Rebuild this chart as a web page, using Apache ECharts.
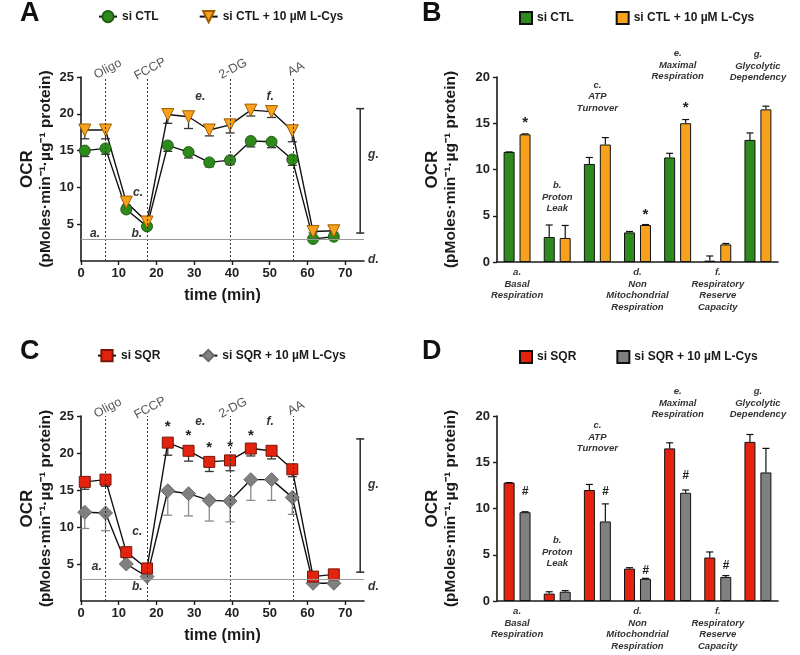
<!DOCTYPE html>
<html><head><meta charset="utf-8">
<script src="https://cdn.jsdelivr.net/npm/echarts@6/dist/echarts.min.js"></script>
<style>html,body{margin:0;padding:0;background:#fff}#c{width:800px;height:655px}</style>
</head><body><div id="c"></div>
<script>
// ---------- DATA ----------
const times = [1.0, 6.5, 12.0, 17.5, 23.0, 28.5, 34.0, 39.5, 45.0, 50.5, 56.0, 61.5, 67.0];
const ctl        = [15.0, 15.3, 7.0, 4.7, 15.7, 14.8, 13.4, 13.7, 16.3, 16.2, 13.8, 3.0, 3.3];
const ctlErr     = [0.8, 0.8, 0.4, 0.2, 0.8, 0.8, 0.6, 0.6, 0.8, 0.8, 0.8, 0.2, 0.2];
const ctlCys     = [17.8, 17.8, 8.0, 5.3, 19.9, 19.6, 17.8, 18.5, 20.5, 20.3, 17.7, 4.0, 4.1];
const ctlCysErr  = [1.2, 1.2, 0.4, 0.3, 1.2, 1.6, 0.8, 1.1, 0.8, 0.8, 1.5, 0.2, 0.2];
const sqr        = [16.1, 16.4, 6.6, 4.4, 21.4, 20.3, 18.8, 19.0, 20.6, 20.3, 17.8, 3.3, 3.6];
const sqrErr     = [1.0, 0.9, 0.3, 0.3, 1.7, 1.4, 1.3, 1.4, 1.0, 1.1, 1.0, 0.2, 0.2];
const sqrCys     = [12.0, 11.9, 5.0, 3.3, 14.9, 14.5, 13.6, 13.5, 16.4, 16.4, 14.0, 2.4, 2.4];
const sqrCysErr  = [2.2, 2.4, 0.3, 0.2, 3.3, 3.0, 2.8, 2.8, 2.8, 2.8, 2.3, 0.2, 0.2];

const injections     = ['Oligo', 'FCCP', '2-DG', 'AA'];
const injectionTimes = [6.3, 17.5, 39.5, 56.2];
const nonMitoLevel   = 3.0;

const categories     = ['Basal Respiration', 'Proton Leak', 'ATP Turnover', 'Non Mitochondrial Respiration',
                        'Maximal Respiration', 'Respiratory Reserve Capacity', 'Glycolytic Dependency'];
const categoryLetters = ['a.', 'b.', 'c.', 'd.', 'e.', 'f.', 'g.'];

const barCtl        = [11.9, 2.7, 10.6, 3.2, 11.3, 0.15, 13.2];
const barCtlErr     = [0.0, 1.3, 0.7, 0.1, 0.45, 0.5, 0.75];
const barCtlCys     = [13.8, 2.6, 12.7, 4.0, 15.0, 1.9, 16.5];
const barCtlCysErr  = [0.05, 1.35, 0.75, 0.05, 0.4, 0.1, 0.35];
const barSqr        = [12.8, 0.8, 12.0, 3.5, 16.5, 4.7, 17.2];
const barSqrErr     = [0.0, 0.2, 0.6, 0.1, 0.6, 0.6, 0.8];
const barSqrCys     = [9.6, 1.0, 8.6, 2.4, 11.7, 2.6, 13.9];
const barSqrCysErr  = [0.05, 0.12, 1.9, 0.05, 0.3, 0.15, 2.6];

// significance marks (category index, value level)
const starsB = [[0, 15.4], [3, 5.4], [4, 17.0]];
const hashD  = [[0, 11.8], [2, 11.8], [3, 3.3], [4, 13.5], [5, 3.8]];
const starsC = [[23.0, 23.9], [28.5, 22.7], [34.0, 21.1], [39.5, 21.3], [45.0, 22.7]];

const xTicks     = [0, 10, 20, 30, 40, 50, 60, 70];
const yTicksLine = [5, 10, 15, 20, 25];
const yTicksBar  = [0, 5, 10, 15, 20];

// ---------- STYLE ----------
const FONT = 'Liberation Sans, Arial, Helvetica, sans-serif';
const GREEN = '#2e8a1d', ORANGE = '#f8a11c', RED = '#e4230f', GRAY = '#808080';
const INK = '#1a1a1a';

const chart = echarts.init(document.getElementById('c'), null, {renderer: 'canvas'});

function lineX(gi) {
  return {
    type: 'value', gridIndex: gi, min: 0, max: 75, interval: 10,
    axisLine: {show: true, onZero: false, lineStyle: {color: INK, width: 1.6}},
    axisTick: {show: true, length: 4, customValues: xTicks, lineStyle: {color: INK, width: 1.4}},
    axisLabel: {customValues: xTicks, color: '#222', fontWeight: 'bold', fontSize: 13, fontFamily: FONT, margin: 6},
    splitLine: {show: false},
    name: 'time (min)', nameLocation: 'middle', nameGap: 27,
    nameTextStyle: {fontWeight: 'bold', fontSize: 16, color: INK, fontFamily: FONT}
  };
}
const yName = '{a|OCR}\n{b|(pMoles·min⁻¹·µg⁻¹ protein)}';
const yNameStyle = {
  color: INK, fontFamily: FONT,
  rich: {
    a: {fontSize: 17, fontWeight: 'bold', color: INK, fontFamily: FONT, lineHeight: 19},
    b: {fontSize: 15.5, fontWeight: 'bold', color: INK, fontFamily: FONT, lineHeight: 18}
  }
};
function lineY(gi) {
  return {
    type: 'value', gridIndex: gi, min: 0, max: 25, interval: 5,
    axisLine: {show: true, onZero: false, lineStyle: {color: INK, width: 1.6}},
    axisTick: {show: true, length: 4, customValues: yTicksLine, lineStyle: {color: INK, width: 1.4}},
    axisLabel: {customValues: yTicksLine, color: '#222', fontWeight: 'bold', fontSize: 13, fontFamily: FONT, margin: 7},
    splitLine: {show: false},
    name: yName, nameLocation: 'middle', nameRotate: 90, nameGap: 26, nameTextStyle: yNameStyle
  };
}
function barX(gi) {
  return {
    type: 'category', gridIndex: gi, data: categories,
    axisLine: {show: true, lineStyle: {color: INK, width: 1.6}},
    axisTick: {show: false},
    axisLabel: {
      interval: 0, margin: 5, color: '#333', fontStyle: 'italic', fontWeight: 'bold',
      fontSize: 9.5, fontFamily: FONT, lineHeight: 11.5,
      formatter: (v, i) => ([0, 3, 5].includes(i) ? [categoryLetters[i]].concat(v.split(' ')).join('\n') : '')
    },
    splitLine: {show: false}
  };
}
function barY(gi) {
  return {
    type: 'value', gridIndex: gi, min: 0, max: 20, interval: 5,
    axisLine: {show: true, onZero: false, lineStyle: {color: INK, width: 1.6}},
    axisTick: {show: true, length: 4, customValues: yTicksBar, lineStyle: {color: INK, width: 1.4}},
    axisLabel: {customValues: yTicksBar, color: '#222', fontWeight: 'bold', fontSize: 13, fontFamily: FONT, margin: 7},
    splitLine: {show: false},
    name: yName, nameLocation: 'middle', nameRotate: 90, nameGap: 37, nameTextStyle: yNameStyle
  };
}

function zip(vals) { return times.map((t, i) => [t, vals[i]]); }

function lineSeries(name, gi, vals, symbol, size, color, border, rotate) {
  return {
    type: 'line', name, xAxisIndex: gi, yAxisIndex: gi, data: zip(vals),
    symbol, symbolSize: size, symbolRotate: rotate || 0,
    itemStyle: {color, borderColor: border, borderWidth: 1},
    lineStyle: {color: '#111', width: 1.4}, z: 4, animation: false
  };
}
function lineErr(gi, vals, errs, color) {
  return {
    type: 'custom', xAxisIndex: gi, yAxisIndex: gi, silent: true, z: 3, animation: false,
    data: times.map((t, i) => [t, vals[i], errs[i]]),
    encode: {x: 0, y: 1},
    renderItem: (params, api) => {
      const p = api.coord([api.value(0), api.value(1)]);
      const q = api.coord([api.value(0), api.value(1) - api.value(2)]);
      const st = {stroke: color, lineWidth: 1.3};
      return {type: 'group', children: [
        {type: 'line', shape: {x1: p[0], y1: p[1], x2: q[0], y2: q[1]}, style: st},
        {type: 'line', shape: {x1: q[0] - 4.5, y1: q[1], x2: q[0] + 4.5, y2: q[1]}, style: st}
      ]};
    }
  };
}
function barSeries(name, gi, vals, color) {
  return {
    type: 'bar', name, xAxisIndex: gi, yAxisIndex: gi, data: vals,
    barWidth: 11, barGap: '45%',
    itemStyle: {color, borderColor: '#111', borderWidth: 1}, z: 2, animation: false
  };
}
function barErr(gi, vals, errs, dx) {
  return {
    type: 'custom', xAxisIndex: gi, yAxisIndex: gi, silent: true, z: 3, animation: false,
    data: vals.map((v, i) => [i, v, errs[i]]),
    encode: {x: 0, y: 1},
    renderItem: (params, api) => {
      const p = api.coord([api.value(0), api.value(1)]);
      const q = api.coord([api.value(0), api.value(1) + api.value(2)]);
      const x = p[0] + dx;
      const st = {stroke: '#111', lineWidth: 1.2};
      return {type: 'group', children: [
        {type: 'line', shape: {x1: x, y1: p[1], x2: x, y2: q[1]}, style: st},
        {type: 'line', shape: {x1: x - 3.5, y1: q[1], x2: x + 3.5, y2: q[1]}, style: st}
      ]};
    }
  };
}
function guideLines() {
  return {
    silent: true, symbol: 'none', animation: false, label: {show: false},
    data: injectionTimes.map(t => ({xAxis: t, lineStyle: {color: '#333', type: [2, 2], width: 1}}))
      .concat([{yAxis: nonMitoLevel, lineStyle: {color: '#9a9a9a', type: 'solid', width: 1}}])
  };
}

const legendText = {fontWeight: 'bold', fontSize: 12, color: INK, fontFamily: FONT};
const stripName = n => n.replace(/^[A-D]:/, '');

const sA1 = lineSeries('A:si CTL', 0, ctl, 'circle', 11, GREEN, '#1f5e12');
sA1.markLine = guideLines();
const sC1 = lineSeries('C:si SQR', 2, sqr, 'rect', 11, RED, '#7a1408');
sC1.markLine = guideLines();

const option = {
  backgroundColor: '#fff',
  animation: false,
  textStyle: {fontFamily: FONT},
  grid: [
    {left: 81, top: 77, width: 283, height: 184, outerBoundsMode: 'none'},
    {left: 497, top: 77, width: 281, height: 185, outerBoundsMode: 'none'},
    {left: 81, top: 416, width: 283, height: 185, outerBoundsMode: 'none'},
    {left: 497, top: 416, width: 281, height: 185, outerBoundsMode: 'none'}
  ],
  xAxis: [lineX(0), barX(1), lineX(2), barX(3)],
  yAxis: [lineY(0), barY(1), lineY(2), barY(3)],
  legend: [
    {data: ['A:si CTL', 'A:si CTL + 10 µM L-Cys'], left: 93, top: 5, itemWidth: 18, itemHeight: 14, itemGap: 40,
     formatter: stripName, textStyle: legendText, selectedMode: false},
    {data: ['B:si CTL', 'B:si CTL + 10 µM L-Cys'], left: 514, top: 6, itemWidth: 12, itemHeight: 12, itemGap: 42,
     formatter: stripName, textStyle: legendText, selectedMode: false, icon: 'rect'},
    {data: ['C:si SQR', 'C:si SQR + 10 µM L-Cys'], left: 92, top: 344, itemWidth: 18, itemHeight: 14, itemGap: 38,
     formatter: stripName, textStyle: legendText, selectedMode: false},
    {data: ['D:si SQR', 'D:si SQR + 10 µM L-Cys'], left: 514, top: 345, itemWidth: 12, itemHeight: 12, itemGap: 40,
     formatter: stripName, textStyle: legendText, selectedMode: false, icon: 'rect'}
  ],
  series: [
    lineErr(0, ctl, ctlErr, '#333'),
    lineErr(0, ctlCys, ctlCysErr, '#333'),
    sA1,
    lineSeries('A:si CTL + 10 µM L-Cys', 0, ctlCys, 'triangle', 12, ORANGE, '#a05e00', 180),
    barSeries('B:si CTL', 1, barCtl, GREEN),
    barSeries('B:si CTL + 10 µM L-Cys', 1, barCtlCys, ORANGE),
    barErr(1, barCtl, barCtlErr, -8),
    barErr(1, barCtlCys, barCtlCysErr, 8),
    lineErr(2, sqr, sqrErr, '#333'),
    lineErr(2, sqrCys, sqrCysErr, '#8a8a8a'),
    lineSeries('C:si SQR + 10 µM L-Cys', 2, sqrCys, 'diamond', 14, GRAY, '#6a6a6a'),
    sC1,
    barSeries('D:si SQR', 3, barSqr, RED),
    barSeries('D:si SQR + 10 µM L-Cys', 3, barSqrCys, GRAY),
    barErr(3, barSqr, barSqrErr, -8),
    barErr(3, barSqrCys, barSqrCysErr, 8)
  ]
};
chart.setOption(option);

// ---------- annotations (anchored in data space) ----------
const px = (g, x, y) => chart.convertToPixel({gridIndex: g}, [x, y]);
const gfx = [];
function txt(x, y, text, font, fill, extra) {
  gfx.push(Object.assign({type: 'text', x, y, silent: true,
    style: {text, font, fill, align: 'center', verticalAlign: 'middle'}}, extra || {}));
}
function ln(x1, y1, x2, y2, stroke, w) {
  gfx.push({type: 'line', silent: true, shape: {x1, y1, x2, y2}, style: {stroke, lineWidth: w}});
}
const annFont = 'italic bold 12px ' + FONT;
const catFont = 'italic bold 9.5px ' + FONT;

// panel letters
[['A', 20, 14], ['B', 422, 14], ['C', 20, 352], ['D', 422, 352]].forEach(([t, x, y]) =>
  gfx.push({type: 'text', x, y, silent: true,
    style: {text: t, font: 'bold 27px ' + FONT, fill: '#111', align: 'left', verticalAlign: 'middle'}}));

// seahorse panels
const seaAnn = {
  0: {letters: [['a.', 3.7, 3.7], ['b.', 14.8, 3.7], ['c.', 15.1, 9.3], ['e.', 31.6, 22.3], ['f.', 50.1, 22.3],
                ['g.', 77.5, 14.4], ['d.', 77.5, 0.2]], bracket: [74, 3.8, 20.7]},
  2: {letters: [['a.', 4.2, 4.6], ['b.', 14.9, 1.9], ['c.', 14.9, 9.4], ['e.', 31.6, 24.2], ['f.', 50.1, 24.2],
                ['g.', 77.5, 15.7], ['d.', 77.5, 1.9]], bracket: [74, 3.9, 21.9]}
};
[0, 2].forEach(g => {
  injections.forEach((name, i) => {
    const p = px(g, injectionTimes[i], 25);
    txt(p[0] + 3, p[1] - 8, name, '12.5px ' + FONT, '#555', {rotation: 28 * Math.PI / 180});
  });
  seaAnn[g].letters.forEach(([t, x, y]) => { const p = px(g, x, y); txt(p[0], p[1], t, annFont, '#333'); });
  const [bx, b0, b1] = seaAnn[g].bracket;
  const p0 = px(g, bx, b0), p1 = px(g, bx, b1);
  ln(p0[0], p0[1], p1[0], p1[1], '#333', 1.6);
  ln(p0[0] - 4, p0[1], p0[0] + 4, p0[1], '#333', 1.6);
  ln(p1[0] - 4, p1[1], p1[0] + 4, p1[1], '#333', 1.6);
});
starsC.forEach(([x, y]) => { const p = px(2, x, y); txt(p[0], p[1] + 3, '*', 'bold 15px ' + FONT, '#222'); });

// bar panels: upper category labels
const upperLabelY = {1: [null, 7.0, 17.9, null, 21.3, null, 21.2], 3: [null, 5.3, 17.7, null, 21.4, null, 21.4]};
[1, 3].forEach(g => {
  upperLabelY[g].forEach((y, i) => {
    if (y === null) return;
    const p = px(g, i, y);
    const lines = [categoryLetters[i]].concat(categories[i].split(' '));
    gfx.push({type: 'text', x: p[0], y: p[1], silent: true,
      style: {text: lines.join('\n'), font: catFont, fill: '#333', align: 'center', verticalAlign: 'middle', lineHeight: 11.5}});
  });
});
starsB.forEach(([i, y]) => { const p = px(1, i, y); txt(p[0] + 8, p[1] + 3, '*', 'bold 15px ' + FONT, '#222'); });
hashD.forEach(([i, y]) => { const p = px(3, i, y); txt(p[0] + 8, p[1], '#', 'italic bold 12px ' + FONT, '#222'); });

chart.setOption({graphic: gfx});
</script>
</body></html>
